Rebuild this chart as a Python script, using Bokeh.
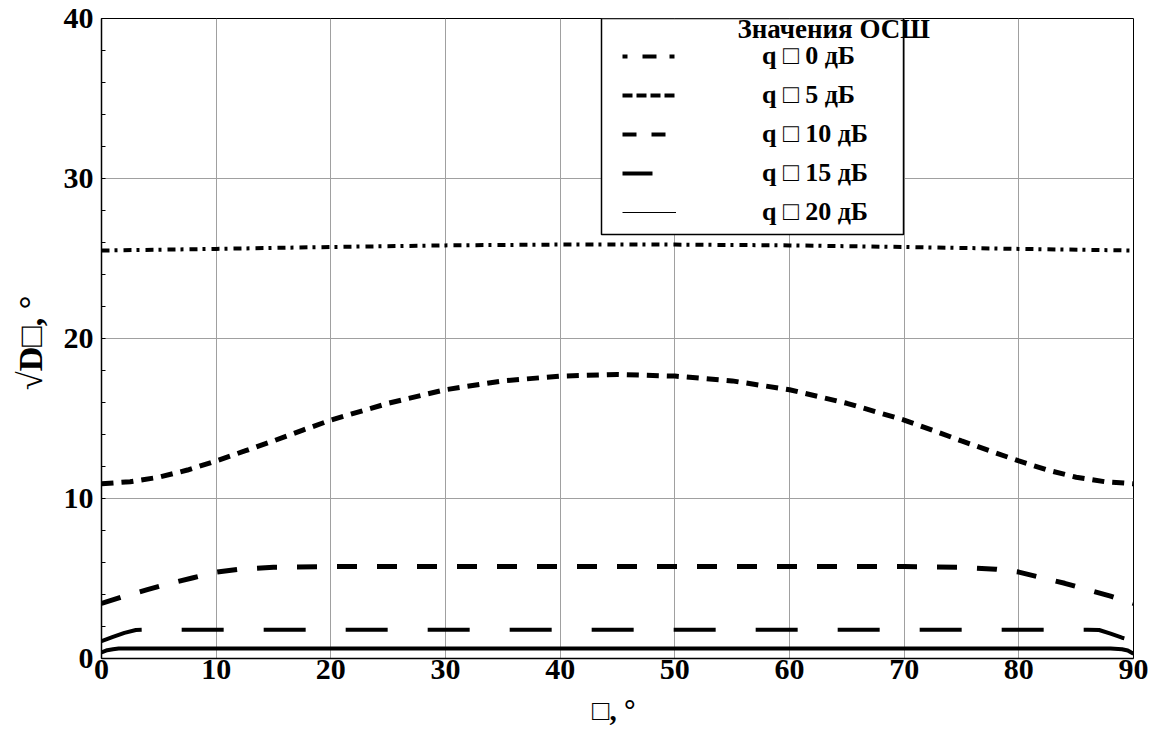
from bokeh.plotting import figure
from bokeh.models import Range1d, Legend, LegendItem, Label, BoxAnnotation, FixedTicker
from bokeh.embed import file_html
from bokeh.resources import INLINE

# ---- data ----
x_q0 = [0, 10, 20, 30, 40, 45, 50, 60, 70, 80, 90]
y_q0 = [25.5, 25.6, 25.72, 25.82, 25.87, 25.88, 25.87, 25.82, 25.72, 25.6, 25.5]

x_q5 = [0, 2.5, 5, 7.5, 10, 12.5, 15, 17.5, 20, 25, 30, 35, 40, 45,
        50, 55, 60, 65, 70, 72.5, 75, 77.5, 80, 82.5, 85, 87.5, 90]
y_q5 = [10.92, 11.05, 11.33, 11.78, 12.35, 12.97, 13.6, 14.26, 14.9, 15.95,
        16.8, 17.35, 17.65, 17.75, 17.65, 17.35, 16.8, 15.95, 14.9, 14.26,
        13.6, 12.97, 12.35, 11.78, 11.33, 11.05, 10.92]

x_q10 = [0, 2, 4, 6, 8, 10, 12, 15, 20, 45, 70, 75, 78, 80, 82, 84, 86, 88, 90]
y_q10 = [3.44, 3.9, 4.3, 4.7, 5.05, 5.4, 5.58, 5.7, 5.75, 5.75, 5.75, 5.7,
         5.58, 5.4, 5.05, 4.7, 4.3, 3.9, 3.44]

x_q15 = [0, 1, 2, 3, 4, 45, 86, 87, 88, 89, 90]
y_q15 = [1.08, 1.35, 1.6, 1.78, 1.8, 1.8, 1.8, 1.78, 1.55, 1.3, 1.1]

x_q20 = [0, 0.5, 1, 1.5, 2, 45, 88, 89, 89.5, 90]
y_q20 = [0.38, 0.52, 0.58, 0.62, 0.62, 0.62, 0.62, 0.58, 0.5, 0.3]

legend_labels = ["q □ 0 дБ", "q □ 5 дБ", "q □ 10 дБ", "q □ 15 дБ", "q □ 20 дБ"]
legend_title = "Значения ОСШ"
x_ticks = [0, 10, 20, 30, 40, 50, 60, 70, 80, 90]
y_ticks = [0, 10, 20, 30, 40]
y_minor = list(range(0, 41, 2))

FONT = "Liberation Serif"

p = figure(width=1158, height=746, output_backend="svg", toolbar_location=None,
           x_range=Range1d(0, 90), y_range=Range1d(0, 40),
           min_border_left=101, min_border_right=25, min_border_top=18,
           min_border_bottom=88)
p.background_fill_color = "white"
p.border_fill_color = "white"
p.outline_line_color = "black"
p.outline_line_width = 1

# axes
p.xaxis.ticker = FixedTicker(ticks=x_ticks)
p.yaxis.ticker = FixedTicker(ticks=y_ticks, minor_ticks=y_minor)
for ax in (p.xaxis[0], p.yaxis[0]):
    ax.axis_line_color = "black"
    ax.axis_line_width = 1.5
    ax.major_tick_out = 0
    ax.major_tick_in = 0
    ax.major_label_text_font = FONT
    ax.major_label_text_font_style = "bold"
    ax.major_label_text_font_size = "30px"
    ax.major_label_text_color = "black"
    ax.axis_label_text_font = FONT
    ax.axis_label_text_font_style = "bold"
    ax.axis_label_text_color = "black"
p.xaxis.minor_tick_in = 0
p.xaxis.minor_tick_out = 0
p.yaxis.minor_tick_in = 4
p.yaxis.minor_tick_out = 0
p.yaxis.minor_tick_line_color = "black"
p.xaxis.major_label_standoff = 1
p.yaxis.major_label_standoff = 8
p.xaxis.axis_label = "□,  °"
p.xaxis.axis_label_text_font_size = "29px"
p.xaxis.axis_label_standoff = 12
p.yaxis.axis_label = "√D□,  °"
p.yaxis.axis_label_text_font_size = "34px"
p.yaxis.axis_label_standoff = 12

p.xgrid.ticker = FixedTicker(ticks=x_ticks)
p.ygrid.ticker = FixedTicker(ticks=y_ticks)
p.grid.grid_line_color = "#a0a0a0"
p.grid.grid_line_width = 1

# data lines
series = [(x_q0, y_q0), (x_q5, y_q5), (x_q10, y_q10), (x_q15, y_q15), (x_q20, y_q20)]
plot_styles = [
    dict(line_width=4, line_dash="8 5 3 6"),
    dict(line_width=5, line_dash="12 8"),
    dict(line_width=5, line_dash="20 20"),
    dict(line_width=4, line_dash="42 40"),
    dict(line_width=4, line_dash="solid"),
]
for (xs, ys), st in zip(series, plot_styles):
    p.line(xs, ys, line_color="black", **st)

# legend renderers (hidden; legend swatch styles differ from plotted strokes)
leg_styles = [
    dict(line_width=4, line_dash="5 15 14 13"),
    dict(line_width=4, line_dash="10 4"),
    dict(line_width=4, line_dash="14 15"),
    dict(line_width=4, line_dash="30 30"),
    dict(line_width=1, line_dash="solid"),
]
leg_items = []
for lab, (xs, ys), st in zip(legend_labels, series, leg_styles):
    r = p.line(xs, ys, line_color="black", visible=False, **st)
    leg_items.append(LegendItem(label=lab, renderers=[r]))

box = BoxAnnotation(left=500, right=802, top=640, bottom=424,
                    left_units="screen", right_units="screen",
                    top_units="screen", bottom_units="screen",
                    fill_color="white", fill_alpha=1.0,
                    line_color="black", line_width=1.5, line_alpha=1.0)
p.add_layout(box)

legend = Legend(items=leg_items, location=(521, 431), orientation="vertical",
                glyph_width=54, glyph_height=30, label_height=30,
                label_standoff=86, spacing=9, padding=0, margin=0,
                border_line_alpha=0, background_fill_alpha=0,
                inactive_fill_alpha=0,
                label_text_font=FONT, label_text_font_style="bold",
                label_text_font_size="26px", label_text_color="black")
p.add_layout(legend)

title_lbl = Label(x=636, y=630, x_units="screen", y_units="screen",
                  text=legend_title, text_font=FONT, text_font_style="bold",
                  text_font_size="27px", text_baseline="middle",
                  text_color="black")
p.add_layout(title_lbl)

open("out.html", "w").write(file_html(p, INLINE))
